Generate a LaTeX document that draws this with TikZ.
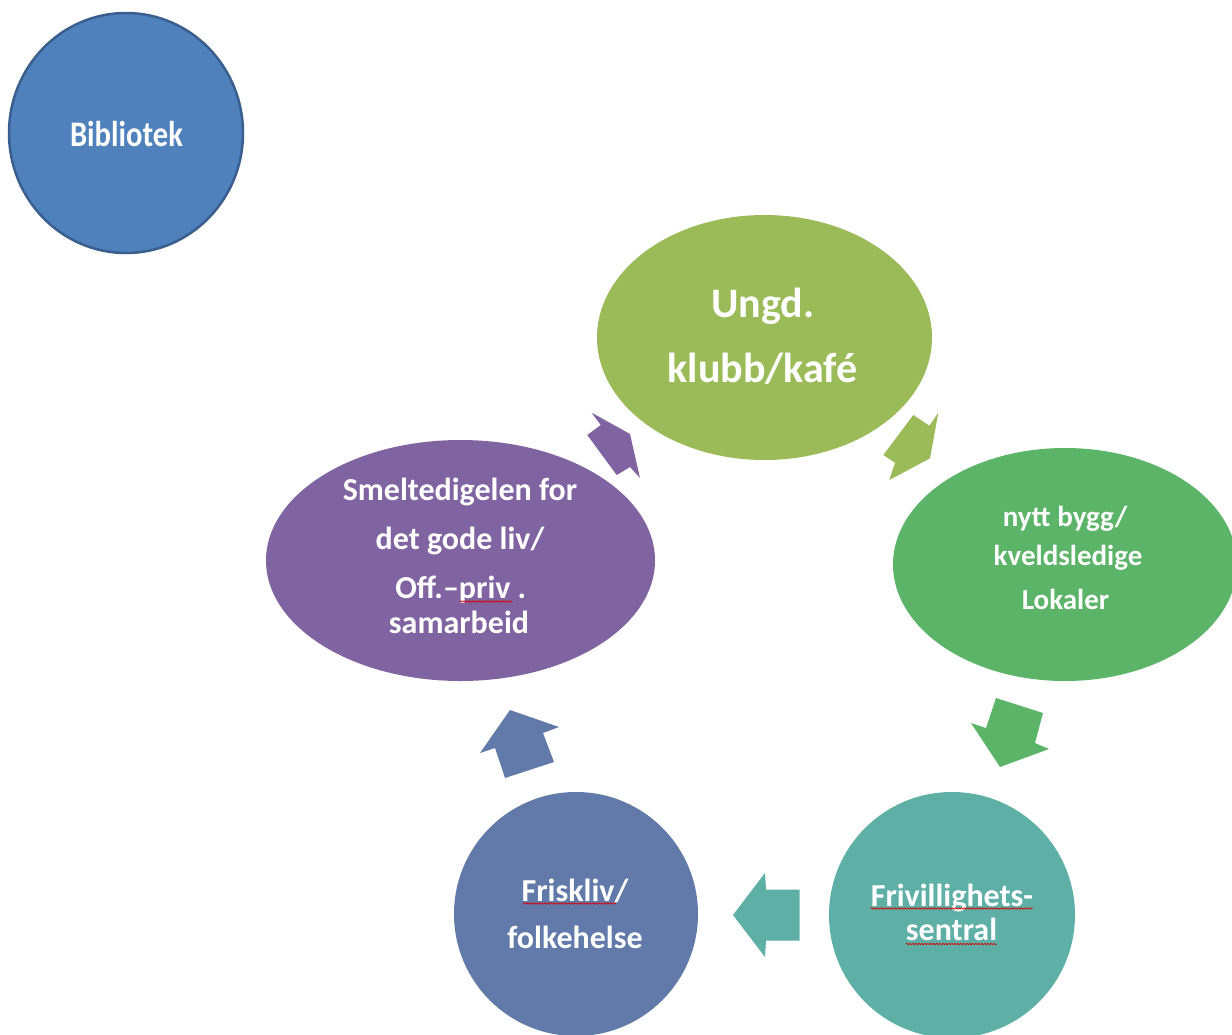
\documentclass[tikz,border=0pt]{standalone}
\usepackage{fontspec}
\setmainfont{Carlito}
\usetikzlibrary{shapes.geometric,decorations.pathmorphing}
\definecolor{bibfill}{HTML}{4F81BD}
\definecolor{bibdraw}{HTML}{3A5F8E}
\definecolor{ungdc}{HTML}{9BBB59}
\definecolor{nyttc}{HTML}{5BB467}
\definecolor{frivc}{HTML}{5EAFA6}
\definecolor{friskc}{HTML}{617AAA}
\definecolor{smeltc}{HTML}{8064A2}
\tikzset{
  blob/.style={ellipse, inner sep=0pt, draw=none},
  tx/.style={text=white, anchor=base, inner sep=0pt},
  spell/.style={draw=red!85!black, line width=0.7pt, decorate,
    decoration={snake, amplitude=0.7pt, segment length=3pt}},
  blockarrow/.style={draw=none}
}
\begin{document}
\begin{tikzpicture}[x=1pt,y=-1pt]
\useasboundingbox (0,0) rectangle (1232,1034);
\clip (0,0) rectangle (1232,1034);
% shapes
\node[blob, fill=bibfill, draw=bibdraw, line width=2.5pt, minimum width=234pt, minimum height=240pt] (bib) at (126,133) {};
\node[blob, fill=ungdc, minimum width=335pt, minimum height=245pt] (ungd) at (764.5,337.5) {};
\node[blob, fill=nyttc, minimum width=344pt, minimum height=233pt] (nytt) at (1065,564.5) {};
\node[blob, fill=frivc, minimum width=246pt, minimum height=246pt] (friv) at (952,915) {};
\node[blob, fill=friskc, minimum width=244pt, minimum height=244pt] (frisk) at (576,914) {};
\node[blob, fill=smeltc, minimum width=389pt, minimum height=241pt] (smelt) at (460.5,560.5) {};
% block arrows
\fill[ungdc] (913.3,415) -- (883.3,455) -- (895,462.7) -- (889.3,480) -- (930,458.3) -- (938.3,412.7) -- (929.3,425.7) -- cycle;
\fill[nyttc] (996,698) -- (1043,713) -- (1035,743) -- (1049,749) -- (1000,767) -- (971,723) -- (986,728) -- cycle;
\fill[frivc] (733,915) -- (765,873) -- (766,889.5) -- (799.5,889.5) -- (799.5,940.5) -- (766,940.5) -- (765,957) -- cycle;
\fill[friskc] (510,710) -- (559,727) -- (543,733) -- (554,762) -- (505,778) -- (495,748) -- (480,753) -- cycle;
\fill[smeltc] (591.7,412.7) -- (630,434) -- (640,478) -- (630,467) -- (616.7,475) -- (587.3,435) -- (600.7,425) -- cycle;
% texts
\node[tx, font=\fontsize{36}{40}\selectfont\bfseries] (bibt) at (126.5,146) {\scalebox{0.85}[1]{Bibliotek}};
\node[tx, font=\fontsize{42}{48}\selectfont\bfseries] (ungt1) at (763,317) {Ungd.};
\node[tx, font=\fontsize{42}{48}\selectfont\bfseries] (ungt2) at (762.5,382) {klubb/kafé};
\node[tx, font=\fontsize{29}{34}\selectfont\bfseries] (nyt1) at (1065,526) {nytt bygg/};
\node[tx, font=\fontsize{29}{34}\selectfont\bfseries] (nyt2) at (1068,565) {kveldsledige};
\node[tx, font=\fontsize{29}{34}\selectfont\bfseries] (nyt3) at (1065.5,609) {Lokaler};
\node[tx, font=\fontsize{32}{36}\selectfont\bfseries] (smt1) at (460,500.5) {Smeltedigelen for};
\node[tx, font=\fontsize{32}{36}\selectfont\bfseries] (smt2) at (460,549) {det gode liv/};
\node[tx, font=\fontsize{32}{36}\selectfont\bfseries] (smt3) at (460.8,598) {Off.–priv .};
\node[tx, font=\fontsize{32}{36}\selectfont\bfseries] (smt4) at (459,633) {samarbeid};
\node[tx, font=\fontsize{32}{36}\selectfont\bfseries] (frvt1) at (952,906) {Frivillighets-};
\node[tx, font=\fontsize{32}{36}\selectfont\bfseries] (frvt2) at (951.5,940) {sentral};
\node[tx, font=\fontsize{32}{36}\selectfont\bfseries] (frst1) at (575,901.7) {Friskliv/};
\node[tx, font=\fontsize{32}{36}\selectfont\bfseries] (frst2) at (575,948) {folkehelse};
% spell-check underlines
\coordinate (s1a) at (460,601.5); \coordinate (s1b) at (512.7,601.5);
\coordinate (s2a) at (870.7,908.5); \coordinate (s2b) at (1032.7,908.5);
\coordinate (s3a) at (906,944); \coordinate (s3b) at (996.7,944);
\coordinate (s4a) at (523,903.5); \coordinate (s4b) at (616,903.5);
\draw[spell] (s1a) -- (s1b);
\draw[spell] (s2a) -- (s2b);
\draw[spell] (s3a) -- (s3b);
\draw[spell] (s4a) -- (s4b);
\end{tikzpicture}
\end{document}
